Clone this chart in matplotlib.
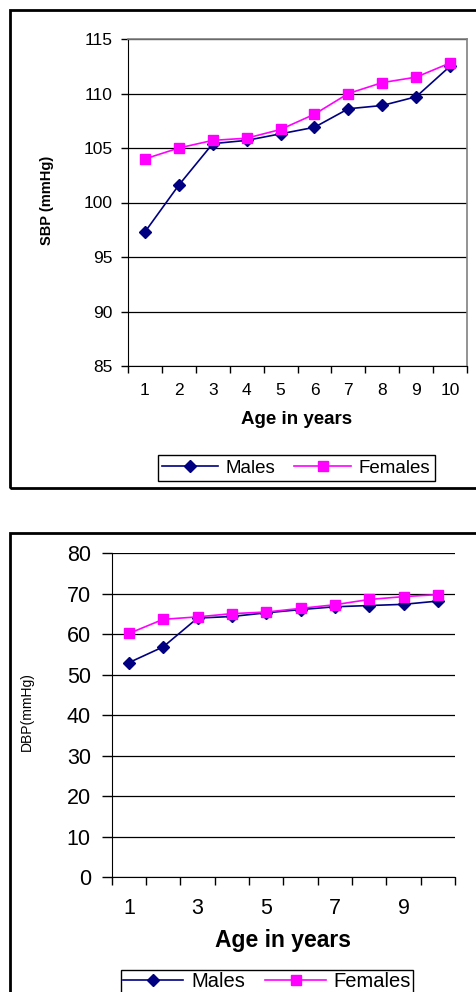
import numpy as np
import matplotlib
matplotlib.use("Agg")
import matplotlib.pyplot as plt
from matplotlib.patches import Rectangle
from matplotlib.lines import Line2D

plt.rcParams['font.family'] = ['Liberation Sans', 'DejaVu Sans']

ages = [1, 2, 3, 4, 5, 6, 7, 8, 9, 10]
sbp_males = [97.3, 101.6, 105.4, 105.7, 106.3, 106.9, 108.6, 108.9, 109.7, 112.5]
sbp_females = [104.0, 105.0, 105.7, 105.9, 106.7, 108.1, 110.0, 111.0, 111.5, 112.8]
dbp_males = [53.0, 56.9, 64.0, 64.4, 65.3, 66.1, 66.8, 67.1, 67.4, 68.2]
dbp_females = [60.2, 63.7, 64.3, 65.1, 65.5, 66.4, 67.3, 68.6, 69.3, 69.8]

W, H = 477, 992
fig = plt.figure(figsize=(W / 100, H / 100), dpi=100)


def box(x0, y0, x1, y1):
    # pixel box (top-left origin) -> figure fraction rect
    return [x0 / W, 1 - y1 / H, (x1 - x0) / W, (y1 - y0) / H]


def fx(x):
    return x / W


def fy(y):
    return 1 - y / H


male_kw = dict(color='#000080', marker='D', markersize=6, lw=1.2)
female_kw = dict(color='#FF00FF', marker='s', markersize=7, lw=1.2)

# outer frames
fig.patches.append(Rectangle((fx(10), fy(488)), fx(480) - fx(10), fy(10) - fy(488),
                             transform=fig.transFigure, fill=False, ec='black', lw=2))
fig.patches.append(Rectangle((fx(10), fy(1010)), fx(480) - fx(10), fy(533) - fy(1010),
                             transform=fig.transFigure, fill=False, ec='black', lw=2))

# ---- SBP chart ----
ax1 = fig.add_axes(box(128, 39, 467, 366))
ax1.plot(ages, sbp_males, zorder=3, **male_kw)
ax1.plot(ages, sbp_females, zorder=4, **female_kw)
ax1.set_xlim(0.5, 10.5)
ax1.set_ylim(85, 115)
ax1.set_yticks(np.arange(85, 116, 5))
ax1.set_xticks(ages)
ax1.set_xticks(np.arange(0.5, 11, 1), minor=True)
ax1.tick_params(axis='x', which='major', length=0, pad=12, labelsize=12.5)
ax1.tick_params(axis='x', which='minor', length=5, direction='out', width=1)
ax1.tick_params(axis='y', length=5, direction='out', width=1, pad=6, labelsize=12.5)
ax1.yaxis.grid(True, color='black', lw=0.9)
ax1.set_axisbelow(True)
for s in ['top', 'right']:
    ax1.spines[s].set_color('#808080')
    ax1.spines[s].set_linewidth(1.2)
for s in ['left', 'bottom']:
    ax1.spines[s].set_color('black')
fig.text(fx(47), fy(200), 'SBP (mmHg)', rotation=90, ha='center', va='center',
         fontsize=10.5, fontweight='bold')
fig.text(fx(297), fy(420), 'Age in years', ha='center', va='center',
         fontsize=13.5, fontweight='bold')

handles = [Line2D([], [], **male_kw), Line2D([], [], **female_kw)]
fig.legend(handles, ['Males', 'Females'], loc='center',
           bbox_to_anchor=(fx(296), fy(468)), ncol=2, fontsize=13.5,
           fancybox=False, edgecolor='black', framealpha=1, handlelength=3,
           borderpad=0.25, columnspacing=1.0, handletextpad=0.4)

# ---- DBP chart ----
ax2 = fig.add_axes(box(111.7, 553.3, 455, 877.3))
ax2.plot(ages, dbp_males, zorder=3, **male_kw)
ax2.plot(ages, dbp_females, zorder=4, **female_kw)
ax2.set_xlim(0.5, 10.5)
ax2.set_ylim(0, 80)
ax2.set_yticks(np.arange(0, 81, 10))
ax2.set_xticks([1, 3, 5, 7, 9])
ax2.set_xticks(np.arange(0.5, 11, 1), minor=True)
ax2.tick_params(axis='x', which='major', length=0, pad=15, labelsize=15.5)
ax2.tick_params(axis='x', which='minor', length=6, direction='out', width=1)
ax2.tick_params(axis='y', length=7, direction='out', width=1, pad=8, labelsize=15.5)
ax2.yaxis.grid(True, color='black', lw=0.9)
ax2.set_axisbelow(True)
ax2.spines['top'].set_visible(False)
ax2.spines['right'].set_visible(False)
fig.text(fx(27), fy(712), 'DBP(mmHg)', rotation=90, ha='center', va='center',
         fontsize=10)
fig.text(fx(283), fy(940), 'Age in years', ha='center', va='center',
         fontsize=16.5, fontweight='bold')

handles2 = [Line2D([], [], **male_kw), Line2D([], [], **female_kw)]
fig.legend(handles2, ['Males', 'Females'], loc='upper center',
           bbox_to_anchor=(fx(267), fy(970)), ncol=2, fontsize=14.5,
           fancybox=False, edgecolor='black', framealpha=1, handlelength=3,
           borderpad=0.1, borderaxespad=0, columnspacing=1.0, handletextpad=0.4)

fig.savefig('out.png', dpi=100)
